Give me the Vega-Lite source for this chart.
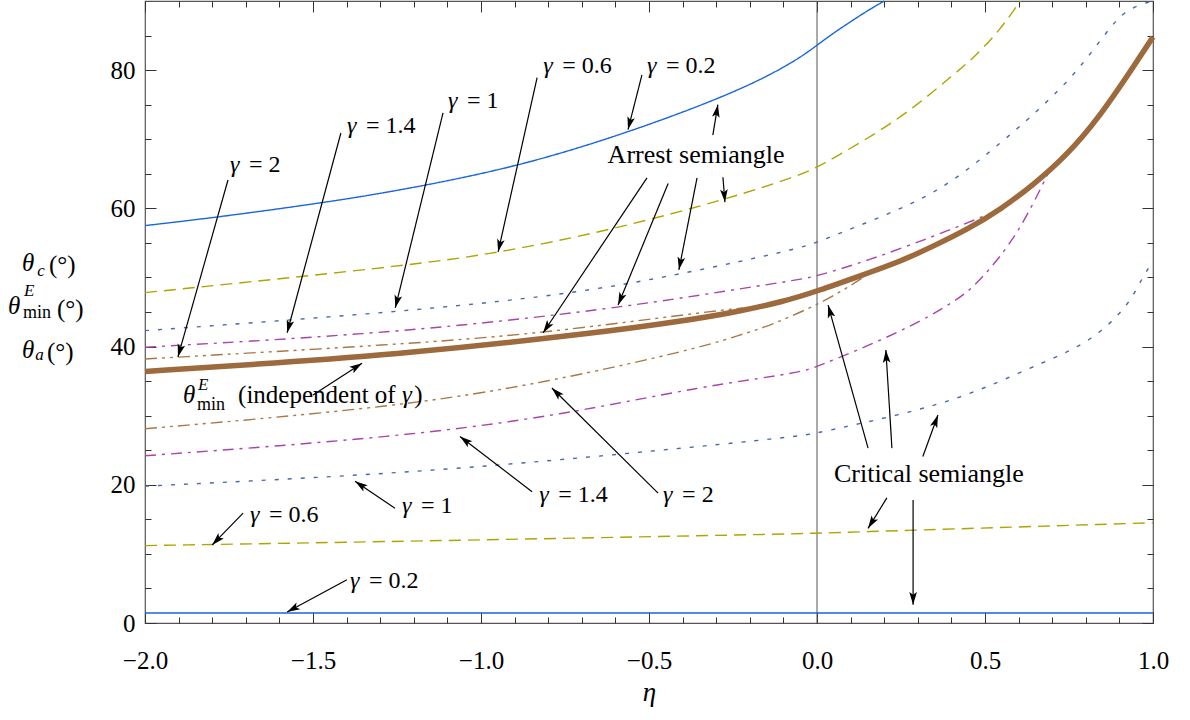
{
  "$schema": "https://vega.github.io/schema/vega-lite/v6.json",
  "width": 1008,
  "height": 622,
  "autosize": {"type": "none"},
  "padding": {"left": 145, "top": 1, "right": 37, "bottom": 97},
  "background": "white",
  "config": {
    "view": {"stroke": "#555555", "strokeWidth": 1.2},
    "axis": {"grid": false, "domain": false, "labelFont": "Liberation Serif", "labelFontSize": 25, "labelColor": "black", "tickColor": "#333333", "tickWidth": 1, "titleFont": "Liberation Serif", "labelFlush": false, "labelOverlap": false, "labelBound": false},
    "text": {"font": "Liberation Serif"}
  },
  "datasets": {
    "curves": [
      {"s": "a0.2", "g": "0.2", "x": -2, "y": 57.5},
      {"s": "a0.2", "g": "0.2", "x": -1.786, "y": 58.7},
      {"s": "a0.2", "g": "0.2", "x": -1.47, "y": 60.8},
      {"s": "a0.2", "g": "0.2", "x": -1.24, "y": 62.6},
      {"s": "a0.2", "g": "0.2", "x": -0.89, "y": 66.0},
      {"s": "a0.2", "g": "0.2", "x": -0.566, "y": 70.9},
      {"s": "a0.2", "g": "0.2", "x": -0.3, "y": 75.7},
      {"s": "a0.2", "g": "0.2", "x": -0.15, "y": 79.0},
      {"s": "a0.2", "g": "0.2", "x": -0.05, "y": 81.8},
      {"s": "a0.2", "g": "0.2", "x": 0, "y": 83.6},
      {"s": "a0.2", "g": "0.2", "x": 0.05, "y": 85.4},
      {"s": "a0.2", "g": "0.2", "x": 0.1, "y": 87.0},
      {"s": "a0.2", "g": "0.2", "x": 0.15, "y": 88.6},
      {"s": "a0.2", "g": "0.2", "x": 0.193, "y": 89.8},
      {"s": "a0.2", "g": "0.2", "x": 0.2, "y": 90},
      {"s": "a0.6", "g": "0.6", "x": -2, "y": 47.8},
      {"s": "a0.6", "g": "0.6", "x": -1.24, "y": 51.6},
      {"s": "a0.6", "g": "0.6", "x": -0.95, "y": 53.5},
      {"s": "a0.6", "g": "0.6", "x": -0.61, "y": 56.9},
      {"s": "a0.6", "g": "0.6", "x": -0.27, "y": 61.3},
      {"s": "a0.6", "g": "0.6", "x": -0.05, "y": 64.8},
      {"s": "a0.6", "g": "0.6", "x": 0, "y": 65.9},
      {"s": "a0.6", "g": "0.6", "x": 0.18, "y": 70.9},
      {"s": "a0.6", "g": "0.6", "x": 0.3, "y": 75.0},
      {"s": "a0.6", "g": "0.6", "x": 0.4, "y": 79.1},
      {"s": "a0.6", "g": "0.6", "x": 0.465, "y": 81.7},
      {"s": "a0.6", "g": "0.6", "x": 0.545, "y": 85.8},
      {"s": "a0.6", "g": "0.6", "x": 0.605, "y": 90},
      {"s": "a1", "g": "1", "x": -2, "y": 42.3},
      {"s": "a1", "g": "1", "x": -1.24, "y": 45.0},
      {"s": "a1", "g": "1", "x": -0.745, "y": 47.5},
      {"s": "a1", "g": "1", "x": -0.41, "y": 50.4},
      {"s": "a1", "g": "1", "x": -0.05, "y": 54.2},
      {"s": "a1", "g": "1", "x": 0, "y": 55.1},
      {"s": "a1", "g": "1", "x": 0.247, "y": 59.8},
      {"s": "a1", "g": "1", "x": 0.4, "y": 63.5},
      {"s": "a1", "g": "1", "x": 0.604, "y": 71.8},
      {"s": "a1", "g": "1", "x": 0.702, "y": 76.2},
      {"s": "a1", "g": "1", "x": 0.783, "y": 80.3},
      {"s": "a1", "g": "1", "x": 0.881, "y": 86.8},
      {"s": "a1", "g": "1", "x": 0.917, "y": 88.4},
      {"s": "a1", "g": "1", "x": 0.952, "y": 89.3},
      {"s": "a1", "g": "1", "x": 0.99, "y": 89.9},
      {"s": "a1", "g": "1", "x": 1.0, "y": 90},
      {"s": "a1.4", "g": "1.4", "x": -2, "y": 39.9},
      {"s": "a1.4", "g": "1.4", "x": -1.24, "y": 42.0},
      {"s": "a1.4", "g": "1.4", "x": -0.6, "y": 45.5},
      {"s": "a1.4", "g": "1.4", "x": -0.25, "y": 48.2},
      {"s": "a1.4", "g": "1.4", "x": -0.05, "y": 49.7},
      {"s": "a1.4", "g": "1.4", "x": 0, "y": 50.2},
      {"s": "a1.4", "g": "1.4", "x": 0.149, "y": 52.4},
      {"s": "a1.4", "g": "1.4", "x": 0.345, "y": 55.9},
      {"s": "a1.4", "g": "1.4", "x": 0.494, "y": 58.8},
      {"s": "a1.4", "g": "1.4", "x": 0.545, "y": 59.9},
      {"s": "a2", "g": "2", "x": -2, "y": 38.2},
      {"s": "a2", "g": "2", "x": -1.24, "y": 40.3},
      {"s": "a2", "g": "2", "x": -0.82, "y": 41.9},
      {"s": "a2", "g": "2", "x": -0.4, "y": 44.6},
      {"s": "a2", "g": "2", "x": -0.22, "y": 45.6},
      {"s": "c0.2", "g": "0.2", "x": -2, "y": 1.45},
      {"s": "c0.2", "g": "0.2", "x": 1, "y": 1.45},
      {"s": "c0.6", "g": "0.6", "x": -2, "y": 11.2},
      {"s": "c0.6", "g": "0.6", "x": -1.24, "y": 11.8},
      {"s": "c0.6", "g": "0.6", "x": -0.05, "y": 12.9},
      {"s": "c0.6", "g": "0.6", "x": 0, "y": 13.0},
      {"s": "c0.6", "g": "0.6", "x": 1, "y": 14.5},
      {"s": "c1", "g": "1", "x": -2, "y": 19.8},
      {"s": "c1", "g": "1", "x": -1.24, "y": 21.6},
      {"s": "c1", "g": "1", "x": -0.646, "y": 24.1},
      {"s": "c1", "g": "1", "x": -0.05, "y": 27.0},
      {"s": "c1", "g": "1", "x": 0, "y": 27.5},
      {"s": "c1", "g": "1", "x": 0.247, "y": 30.1},
      {"s": "c1", "g": "1", "x": 0.446, "y": 32.8},
      {"s": "c1", "g": "1", "x": 0.643, "y": 37.1},
      {"s": "c1", "g": "1", "x": 0.762, "y": 39.5},
      {"s": "c1", "g": "1", "x": 0.842, "y": 42.0},
      {"s": "c1", "g": "1", "x": 0.902, "y": 44.8},
      {"s": "c1", "g": "1", "x": 0.94, "y": 47.2},
      {"s": "c1", "g": "1", "x": 0.97, "y": 50.1},
      {"s": "c1", "g": "1", "x": 1.0, "y": 52.4},
      {"s": "c1.4", "g": "1.4", "x": -2, "y": 24.2},
      {"s": "c1.4", "g": "1.4", "x": -1.24, "y": 26.9},
      {"s": "c1.4", "g": "1.4", "x": -0.745, "y": 30.2},
      {"s": "c1.4", "g": "1.4", "x": -0.35, "y": 34.2},
      {"s": "c1.4", "g": "1.4", "x": -0.05, "y": 36.2},
      {"s": "c1.4", "g": "1.4", "x": 0, "y": 37.1},
      {"s": "c1.4", "g": "1.4", "x": 0.197, "y": 41.0},
      {"s": "c1.4", "g": "1.4", "x": 0.345, "y": 44.6},
      {"s": "c1.4", "g": "1.4", "x": 0.405, "y": 46.5},
      {"s": "c1.4", "g": "1.4", "x": 0.446, "y": 47.8},
      {"s": "c1.4", "g": "1.4", "x": 0.494, "y": 50.1},
      {"s": "c1.4", "g": "1.4", "x": 0.545, "y": 53.0},
      {"s": "c1.4", "g": "1.4", "x": 0.595, "y": 56.4},
      {"s": "c1.4", "g": "1.4", "x": 0.644, "y": 60.7},
      {"s": "c1.4", "g": "1.4", "x": 0.687, "y": 65.0},
      {"s": "c2", "g": "2", "x": -2, "y": 28.1},
      {"s": "c2", "g": "2", "x": -1.24, "y": 31.3},
      {"s": "c2", "g": "2", "x": -0.795, "y": 34.9},
      {"s": "c2", "g": "2", "x": -0.348, "y": 39.8},
      {"s": "c2", "g": "2", "x": -0.229, "y": 41.7},
      {"s": "c2", "g": "2", "x": -0.16, "y": 42.7},
      {"s": "c2", "g": "2", "x": -0.08, "y": 44.3},
      {"s": "c2", "g": "2", "x": 0.01, "y": 46.3},
      {"s": "c2", "g": "2", "x": 0.08, "y": 48.2},
      {"s": "c2", "g": "2", "x": 0.15, "y": 50.4}
    ],
    "thick": [
      {"x": -2, "y": 36.4},
      {"x": -1.613, "y": 37.6},
      {"x": -1.24, "y": 38.9},
      {"x": -0.646, "y": 42.0},
      {"x": -0.4, "y": 43.7},
      {"x": -0.25, "y": 44.9},
      {"x": -0.1, "y": 46.5},
      {"x": 0, "y": 48.0},
      {"x": 0.149, "y": 50.6},
      {"x": 0.247, "y": 52.3},
      {"x": 0.345, "y": 54.5},
      {"x": 0.446, "y": 56.9},
      {"x": 0.545, "y": 59.8},
      {"x": 0.644, "y": 63.4},
      {"x": 0.744, "y": 67.7},
      {"x": 0.842, "y": 73.3},
      {"x": 0.942, "y": 80.5},
      {"x": 1.0, "y": 84.8}
    ],
    "arrows": [
      {"x": -1.753, "y": 64.1, "x2": -1.902, "y2": 38.5},
      {"x": -1.417, "y": 70.9, "x2": -1.577, "y2": 42.0},
      {"x": -1.113, "y": 73.8, "x2": -1.255, "y2": 45.6},
      {"x": -0.833, "y": 78.9, "x2": -0.949, "y2": 53.7},
      {"x": -0.521, "y": 79.3, "x2": -0.5625, "y2": 71.4},
      {"x": -0.31, "y": 70.6, "x2": -0.295, "y2": 75.0},
      {"x": -0.28, "y": 64.5, "x2": -0.274, "y2": 60.9},
      {"x": -0.357, "y": 64.4, "x2": -0.411, "y2": 51.1},
      {"x": -0.443, "y": 63.6, "x2": -0.592, "y2": 46.0},
      {"x": -0.506, "y": 64.4, "x2": -0.815, "y2": 42.0},
      {"x": -1.5, "y": 33.0, "x2": -1.354, "y2": 37.6},
      {"x": -1.256, "y": 16.6, "x2": -1.375, "y2": 20.5},
      {"x": -0.848, "y": 19.0, "x2": -1.0625, "y2": 27.0},
      {"x": -0.473, "y": 18.8, "x2": -0.789, "y2": 34.0},
      {"x": -1.708, "y": 15.9, "x2": -1.8, "y2": 11.3},
      {"x": -1.399, "y": 6.26, "x2": -1.577, "y2": 1.59},
      {"x": 0.152, "y": 25.3, "x2": 0.033, "y2": 46.0},
      {"x": 0.223, "y": 25.3, "x2": 0.205, "y2": 39.5},
      {"x": 0.315, "y": 24.1, "x2": 0.36, "y2": 30.1},
      {"x": 0.208, "y": 18.1, "x2": 0.152, "y2": 13.7},
      {"x": 0.286, "y": 17.8, "x2": 0.286, "y2": 2.65}
    ],
    "glabels": [
      {"x": -1.747, "y": 65.27, "t": "= 2"},
      {"x": -1.399, "y": 70.9, "t": "= 1.4"},
      {"x": -1.098, "y": 74.5, "t": "= 1"},
      {"x": -0.815, "y": 79.6, "t": "= 0.6"},
      {"x": -0.506, "y": 79.6, "t": "= 0.2"},
      {"x": -1.235, "y": 15.95, "t": "= 1"},
      {"x": -0.827, "y": 17.5, "t": "= 1.4"},
      {"x": -0.458, "y": 17.5, "t": "= 2"},
      {"x": -1.6875, "y": 14.65, "t": "= 0.6"},
      {"x": -1.39, "y": 5.1, "t": "= 0.2"}
    ],
    "phrases": [
      {"x": -0.36, "y": 66.6, "t": "Arrest semiangle"},
      {"x": 0.333, "y": 20.4, "t": "Critical semiangle"}
    ],
    "rm": [
      {"x": -2.286, "y": 50.6, "t": "(°)"},
      {"x": -2.262, "y": 44.3, "t": "(°)"},
      {"x": -2.292, "y": 38.0, "t": "(°)"},
      {"x": -1.723, "y": 31.86, "t": "(independent of"},
      {"x": -1.199, "y": 31.86, "t": ")"}
    ],
    "it": [
      {"x": -2.366, "y": 50.9, "t": "θ"},
      {"x": -2.408, "y": 44.7, "t": "θ"},
      {"x": -2.366, "y": 38.4, "t": "θ"},
      {"x": -1.887, "y": 31.86, "t": "θ"},
      {"x": -1.235, "y": 31.86, "t": "γ"}
    ],
    "itsm": [
      {"x": -2.321, "y": 50.15, "t": "c"},
      {"x": -2.36, "y": 47.25, "t": "E"},
      {"x": -2.327, "y": 38.0, "t": "a"},
      {"x": -1.842, "y": 33.74, "t": "E"}
    ],
    "rmsm": [
      {"x": -2.363, "y": 44.1, "t": "min"},
      {"x": -1.845, "y": 30.85, "t": "min"}
    ]
  },
  "resolve": {"axis": {"x": "independent", "y": "independent"}},
  "layer": [
    {
      "data": {"values": [{"x": 0}]},
      "mark": {"type": "rule", "color": "#555555", "strokeWidth": 1},
      "encoding": {
        "x": {"field": "x", "type": "quantitative", "scale": {"domain": [-2, 1], "nice": false, "zero": false}, "axis": null}
      }
    },
    {
      "data": {"name": "curves"},
      "mark": {"type": "line", "strokeWidth": 1.4, "interpolate": "basis"},
      "encoding": {
        "x": {"field": "x", "type": "quantitative", "scale": {"domain": [-2, 1], "nice": false, "zero": false},
          "axis": {"orient": "bottom", "values": [-2, -1.5, -1, -0.5, 0, 0.5, 1], "format": ".1f", "ticks": false, "labelPadding": 25, "labelFont": "Liberation Serif", "labelFontSize": 25, "labelColor": "black", "title": "η", "titleFont": "Liberation Serif", "titleFontStyle": "italic", "titleFontSize": 27, "titleFontWeight": "normal", "titlePadding": 6, "titleColor": "black"}},
        "y": {"field": "y", "type": "quantitative", "scale": {"domain": [0, 90], "nice": false, "zero": false},
          "axis": {"orient": "left", "values": [0, 20, 40, 60, 80], "ticks": false, "labelPadding": 10, "labelFont": "Liberation Serif", "labelFontSize": 25, "labelColor": "black", "title": null}},
        "color": {"field": "g", "type": "nominal", "legend": null,
          "scale": {"domain": ["0.2", "0.6", "1", "1.4", "2"], "range": ["#1a66dd", "#b0a400", "#4a68b0", "#a845a8", "#a87848"]}},
        "strokeDash": {"field": "g", "type": "nominal", "legend": null,
          "scale": {"domain": ["0.2", "0.6", "1", "1.4", "2"], "range": [[1, 0], [12, 7], [4, 9], [11, 6, 3, 6], [12, 5, 3, 5, 3, 5]]}},
        "detail": {"field": "s", "type": "nominal"}
      }
    },
    {
      "data": {"name": "thick"},
      "mark": {"type": "line", "strokeWidth": 5.5, "color": "#9c6a3c", "interpolate": "basis"},
      "encoding": {
        "x": {"field": "x", "type": "quantitative", "scale": {"domain": [-2, 1], "nice": false, "zero": false},
          "axis": {"orient": "bottom", "values": [-2, -1.5, -1, -0.5, 0, 0.5, 1], "labels": false, "tickSize": -11, "title": null}},
        "y": {"field": "y", "type": "quantitative", "scale": {"domain": [0, 90], "nice": false, "zero": false},
          "axis": {"orient": "left", "values": [0, 20, 40, 60, 80], "labels": false, "tickSize": -11, "title": null}}
      }
    },
    {
      "data": {"name": "arrows"},
      "mark": {"type": "rule", "color": "black", "strokeWidth": 1.2},
      "encoding": {
        "x": {"field": "x", "type": "quantitative", "scale": {"domain": [-2, 1], "nice": false, "zero": false},
          "axis": {"orient": "bottom", "values": [-1.9, -1.8, -1.7, -1.6, -1.4, -1.3, -1.2, -1.1, -0.9, -0.8, -0.7, -0.6, -0.4, -0.3, -0.2, -0.1, 0.1, 0.2, 0.3, 0.4, 0.6, 0.7, 0.8, 0.9], "labels": false, "tickSize": -6, "title": null}},
        "y": {"field": "y", "type": "quantitative", "scale": {"domain": [0, 90], "nice": false, "zero": false},
          "axis": {"orient": "left", "values": [5, 10, 15, 25, 30, 35, 45, 50, 55, 65, 70, 75, 85], "labels": false, "tickSize": -6, "title": null}},
        "x2": {"field": "x2"},
        "y2": {"field": "y2"}
      }
    },
    {
      "data": {"name": "arrows"},
      "transform": [{"calculate": "atan2((datum.x2 - datum.x) * 336, (datum.y2 - datum.y) * 6.911) * 180 / PI", "as": "ang"}],
      "mark": {"type": "point", "shape": "M0,0 L-0.3,1 L0,0.78 L0.3,1 Z", "size": 650, "filled": true, "color": "black", "opacity": 1, "strokeWidth": 0},
      "encoding": {
        "x": {"field": "x2", "type": "quantitative", "scale": {"domain": [-2, 1], "nice": false, "zero": false},
          "axis": {"orient": "top", "values": [-2, -1.5, -1, -0.5, 0, 0.5, 1], "labels": false, "tickSize": -11, "title": null}},
        "y": {"field": "y2", "type": "quantitative", "scale": {"domain": [0, 90], "nice": false, "zero": false},
          "axis": {"orient": "right", "values": [0, 20, 40, 60, 80], "labels": false, "tickSize": -11, "title": null}},
        "angle": {"field": "ang", "type": "quantitative", "scale": null}
      }
    },
    {
      "data": {"name": "glabels"},
      "mark": {"type": "text", "font": "Liberation Serif", "fontStyle": "italic", "fontSize": 24, "align": "left", "baseline": "alphabetic", "color": "black", "text": "γ"},
      "encoding": {
        "x": {"field": "x", "type": "quantitative", "scale": {"domain": [-2, 1], "nice": false, "zero": false},
          "axis": {"orient": "top", "values": [-1.9, -1.8, -1.7, -1.6, -1.4, -1.3, -1.2, -1.1, -0.9, -0.8, -0.7, -0.6, -0.4, -0.3, -0.2, -0.1, 0.1, 0.2, 0.3, 0.4, 0.6, 0.7, 0.8, 0.9], "labels": false, "tickSize": -6, "title": null}},
        "y": {"field": "y", "type": "quantitative", "scale": {"domain": [0, 90], "nice": false, "zero": false},
          "axis": {"orient": "right", "values": [5, 10, 15, 25, 30, 35, 45, 50, 55, 65, 70, 75, 85], "labels": false, "tickSize": -6, "title": null}}
      }
    },
    {
      "data": {"name": "glabels"},
      "mark": {"type": "text", "font": "Liberation Serif", "fontSize": 24, "align": "left", "baseline": "alphabetic", "color": "black", "dx": 19},
      "encoding": {
        "x": {"field": "x", "type": "quantitative", "scale": {"domain": [-2, 1], "nice": false, "zero": false}, "axis": null},
        "y": {"field": "y", "type": "quantitative", "scale": {"domain": [0, 90], "nice": false, "zero": false}, "axis": null},
        "text": {"field": "t"}
      }
    },
    {
      "data": {"name": "phrases"},
      "mark": {"type": "text", "font": "Liberation Serif", "fontSize": 26, "align": "center", "baseline": "alphabetic", "color": "black"},
      "encoding": {
        "x": {"field": "x", "type": "quantitative", "scale": {"domain": [-2, 1], "nice": false, "zero": false}, "axis": null},
        "y": {"field": "y", "type": "quantitative", "scale": {"domain": [0, 90], "nice": false, "zero": false}, "axis": null},
        "text": {"field": "t"}
      }
    },
    {
      "data": {"name": "rm"},
      "mark": {"type": "text", "font": "Liberation Serif", "fontSize": 25, "align": "left", "baseline": "alphabetic", "color": "black"},
      "encoding": {
        "x": {"field": "x", "type": "quantitative", "scale": {"domain": [-2, 1], "nice": false, "zero": false}, "axis": null},
        "y": {"field": "y", "type": "quantitative", "scale": {"domain": [0, 90], "nice": false, "zero": false}, "axis": null},
        "text": {"field": "t"}
      }
    },
    {
      "data": {"name": "it"},
      "mark": {"type": "text", "font": "Liberation Serif", "fontStyle": "italic", "fontSize": 25, "align": "left", "baseline": "alphabetic", "color": "black"},
      "encoding": {
        "x": {"field": "x", "type": "quantitative", "scale": {"domain": [-2, 1], "nice": false, "zero": false}, "axis": null},
        "y": {"field": "y", "type": "quantitative", "scale": {"domain": [0, 90], "nice": false, "zero": false}, "axis": null},
        "text": {"field": "t"}
      }
    },
    {
      "data": {"name": "itsm"},
      "mark": {"type": "text", "font": "Liberation Serif", "fontStyle": "italic", "fontSize": 17, "align": "left", "baseline": "alphabetic", "color": "black"},
      "encoding": {
        "x": {"field": "x", "type": "quantitative", "scale": {"domain": [-2, 1], "nice": false, "zero": false}, "axis": null},
        "y": {"field": "y", "type": "quantitative", "scale": {"domain": [0, 90], "nice": false, "zero": false}, "axis": null},
        "text": {"field": "t"}
      }
    },
    {
      "data": {"name": "rmsm"},
      "mark": {"type": "text", "font": "Liberation Serif", "fontSize": 18, "align": "left", "baseline": "alphabetic", "color": "black"},
      "encoding": {
        "x": {"field": "x", "type": "quantitative", "scale": {"domain": [-2, 1], "nice": false, "zero": false}, "axis": null},
        "y": {"field": "y", "type": "quantitative", "scale": {"domain": [0, 90], "nice": false, "zero": false}, "axis": null},
        "text": {"field": "t"}
      }
    }
  ]
}
